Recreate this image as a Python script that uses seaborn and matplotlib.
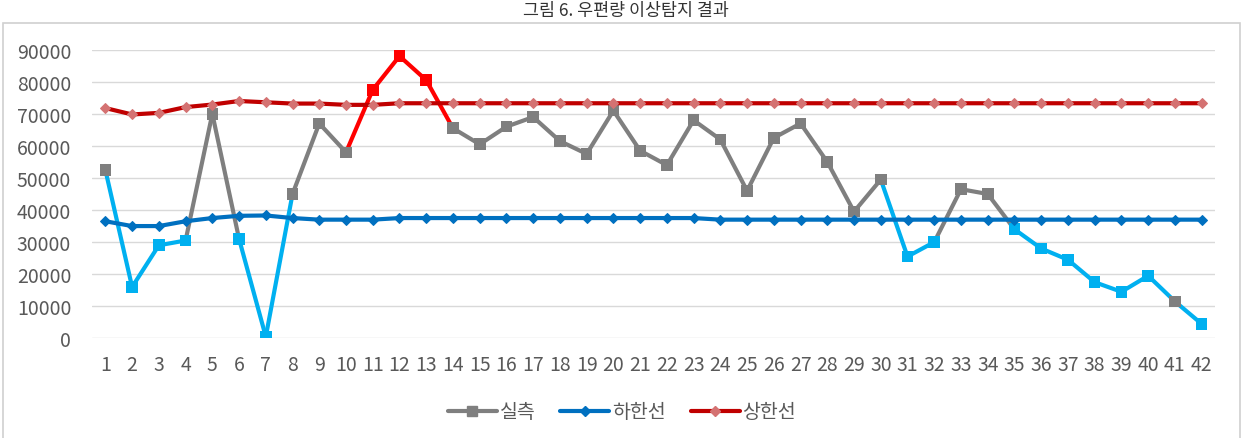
import numpy as np
import pandas as pd
import matplotlib
matplotlib.use("Agg")
import matplotlib.pyplot as plt
from matplotlib.lines import Line2D
from matplotlib.patches import Rectangle
import seaborn as sns

# ---------------- data ----------------
x_labels = list(range(1, 43))
actual = [52500, 16000, 29000, 30500, 70000, 31000, 500, 45000, 67000, 58000,
          77500, 88000, 80500, 65500, 60500, 66000, 69000, 61500, 57500, 71000,
          58500, 54000, 68000, 62000, 46000, 62500, 67000, 55000, 39500, 49500,
          25500, 30000, 46500, 45000, 34000, 28000, 24500, 17500, 14500, 19500,
          11500, 4500]
lower = [36500, 35000, 35000, 36500, 37500, 38200, 38300, 37500, 37000, 37000,
         37000, 37500, 37500, 37500, 37500, 37500, 37500, 37500, 37500, 37500,
         37500, 37500, 37500, 37000, 37000, 37000, 37000, 37000, 37000, 37000,
         37000, 37000, 37000, 37000, 37000, 37000, 37000, 37000, 37000, 37000,
         37000, 37000]
upper = [71800, 69800, 70300, 72100, 72900, 74000, 73600, 73200, 73200, 72800,
         72800, 73300, 73300, 73300, 73300, 73300, 73300, 73300, 73300, 73300,
         73300, 73300, 73300, 73300, 73300, 73300, 73300, 73300, 73300, 73300,
         73300, 73300, 73300, 73300, 73300, 73300, 73300, 73300, 73300, 73300,
         73300, 73300]
# status of each point (marker colour) and of each connecting segment
point_status = (["n", "l", "l", "l", "n", "l", "l", "n", "n", "n", "h", "h", "h"]
                + ["n"] * 17 + ["l", "l", "n", "n"] + ["l"] * 6 + ["n", "l"])
segment_status = (["l", "l", "l", "n", "n", "l", "l", "n", "n", "h", "h", "h", "h"]
                  + ["n"] * 16 + ["l", "l", "n", "n", "n"] + ["l"] * 7)
legend_labels = ["실측", "하한선", "상한선"]
title_text = "그림 6. 우편량 이상탐지 결과"

# ---------------- style ----------------
sns.set_theme(style="white")
plt.rcParams["font.family"] = ["Noto Sans CJK KR", "DejaVu Sans"]

status_colors = {"n": "#7F7F7F", "l": "#00B0F0", "h": "#FF0000"}
lower_color = "#0070C0"
upper_color = "#C00000"
upper_marker = "#D47272"
text_color = "#595959"

fig = plt.figure(figsize=(12.51, 4.39), dpi=100)
ax = fig.add_axes([92 / 1251, 1 - 339.3 / 439, (1215 - 92) / 1251, (339.3 - 50.7) / 439])

# chart border
fig.patches.append(Rectangle((3 / 1251, -0.05), (1240 - 3) / 1251, 1.05 - 24 / 439,
                             transform=fig.transFigure, fill=False,
                             edgecolor="#D0D0D0", linewidth=1.2))

# actual series: segments coloured by status
rows = []
for i, st in enumerate(segment_status):
    for j in (i, i + 1):
        rows.append({"x": x_labels[j], "y": actual[j], "seg": i, "status": st})
seg_df = pd.DataFrame(rows)
sns.lineplot(data=seg_df, x="x", y="y", hue="status", units="seg", estimator=None,
             palette=status_colors, linewidth=3, ax=ax, legend=False, sort=False)

pt_df = pd.DataFrame({"x": x_labels, "y": actual, "status": point_status})
sns.scatterplot(data=pt_df, x="x", y="y", hue="status", palette=status_colors,
                marker="s", s=70, linewidth=0, ax=ax, legend=False, zorder=3)

# limit lines
lim_df = pd.DataFrame({"x": x_labels, "lower": lower, "upper": upper})
sns.lineplot(data=lim_df, x="x", y="lower", color=lower_color, linewidth=3,
             marker="D", markersize=5, markerfacecolor=lower_color,
             markeredgecolor=lower_color, ax=ax, zorder=4)
sns.lineplot(data=lim_df, x="x", y="upper", color=upper_color, linewidth=3,
             marker="D", markersize=5, markerfacecolor=upper_marker,
             markeredgecolor=upper_marker, ax=ax, zorder=4)

ax.set_xlim(0.5, 42.5)
ax.set_ylim(0, 90000)
ax.set_xticks(x_labels)
ax.set_xticklabels([str(v) for v in x_labels])
ax.set_yticks(range(0, 90001, 10000))
ax.set_yticklabels([str(v) for v in range(0, 90001, 10000)])
ax.tick_params(axis="x", length=0, pad=11, labelsize=14, labelcolor=text_color)
ax.tick_params(axis="y", length=0, pad=15, labelsize=14, labelcolor=text_color)
ax.set_xlabel("")
ax.set_ylabel("")
ax.grid(axis="y", color="#D9D9D9", linewidth=1)
ax.grid(axis="x", visible=False)
ax.set_axisbelow(True)
for sp in ax.spines.values():
    sp.set_visible(False)

handles = [
    Line2D([], [], color=status_colors["n"], linewidth=3, marker="s", markersize=7),
    Line2D([], [], color=lower_color, linewidth=3, marker="D", markersize=5),
    Line2D([], [], color=upper_color, linewidth=3, marker="D", markersize=5,
           markerfacecolor=upper_marker, markeredgecolor=upper_marker),
]
fig.legend(handles, legend_labels, loc="center", bbox_to_anchor=(622 / 1251, 1 - 413 / 439),
           ncol=3, frameon=False, fontsize=14, labelcolor=text_color,
           handlelength=2.5, handletextpad=0.15, columnspacing=1.3)

fig.text(0.5, 1 - 11 / 439, title_text, ha="center", va="center", fontsize=12.5,
         color="#333333")

fig.savefig("out.png", dpi=100, facecolor="white")
